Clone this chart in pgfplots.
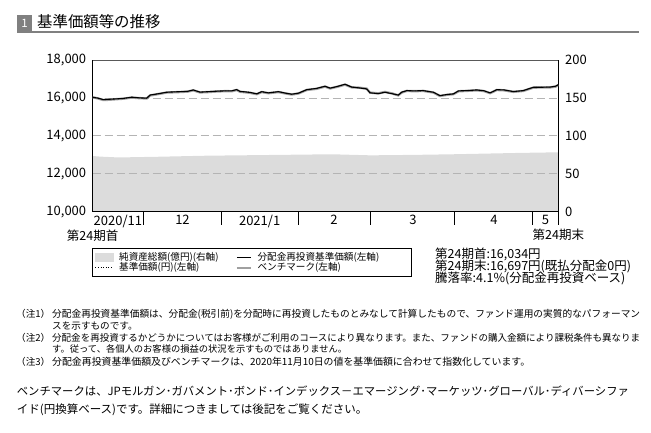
\documentclass[border=0pt]{standalone}
\usepackage{fontspec}
\setmainfont{Noto Sans CJK JP}
\usepackage{pgfplots}
\pgfplotsset{compat=1.18}
\usepackage{pgfplotstable}

\definecolor{areagray}{HTML}{DCDCDC}
\definecolor{bmgray}{HTML}{A0A0A0}
\definecolor{gridgray}{HTML}{B4B4B4}
\definecolor{titlegray}{HTML}{808080}

\newcommand{\fs}[1]{\fontsize{#1}{#1}\selectfont}

% day index from 2020/11/10, value in yen
\pgfplotstableread{
day nav
0 16034
2 15990
4.1 15910
6.5 15930
9.3 15950
12 15975
15.2 16037
18 16005
21.0 15985
22.3 16150
25.5 16220
28.8 16300
32 16320
35.2 16335
37 16350
39.1 16420
41.7 16305
45 16330
48.2 16355
52 16375
54 16370
56.0 16438
57.3 16340
59.2 16320
61.1 16290
63.8 16215
65.7 16330
68.3 16265
72.2 16330
75 16250
77.4 16195
80 16250
83.2 16435
87 16500
90.3 16615
92.3 16515
95 16600
98.1 16720
100.7 16570
103.5 16530
106.5 16475
107.8 16270
111.0 16225
113.6 16300
116.3 16225
118.8 16150
120.1 16300
122.1 16385
125 16370
128.5 16385
132.4 16300
135.0 16120
138 16185
140.2 16210
142.2 16370
146 16390
149.3 16420
152 16380
154.5 16265
157.1 16435
160 16420
163.5 16335
167.4 16385
171.3 16560
175 16565
177.8 16570
180 16620
181 16697
}\navtable

\pgfplotstableread{
day bm
0 16034
2 15975
4.1 15890
6.5 15905
9.3 15935
12 15960
15.2 16020
18 15990
21.0 15970
22.3 16130
25.5 16205
28.8 16285
32 16300
35.2 16320
37 16335
39.1 16400
41.7 16290
45 16310
48.2 16340
52 16360
54 16350
56.0 16420
57.3 16325
59.2 16300
61.1 16270
63.8 16200
65.7 16310
68.3 16250
72.2 16310
75 16235
77.4 16180
80 16235
83.2 16420
87 16480
90.3 16600
92.3 16500
95 16585
98.1 16700
100.7 16560
103.5 16540
106.5 16490
107.8 16280
111.0 16240
113.6 16315
116.3 16240
118.8 16135
120.1 16285
122.1 16370
125 16355
128.5 16370
132.4 16285
135.0 16105
138 16170
140.2 16195
142.2 16350
146 16375
149.3 16400
152 16365
154.5 16250
157.1 16420
160 16400
163.5 16320
167.4 16370
171.3 16545
175 16550
177.8 16555
180 16600
181 16680
}\bmtable

% net assets, 100 million yen
\pgfplotstableread{
day aum
0 73.4
3 72.6
10 71.5
25 72.4
44 73.8
70 74.8
93 75.7
108 74.3
125 74.9
140 75.7
166 77.5
181 78.3
}\aumtable

\begin{document}
\begin{tikzpicture}
\useasboundingbox (0,0) rectangle (651pt,433pt);

% section title
\fill[titlegray] (17pt,402pt) rectangle (32pt,418pt);
\node[white,font=\fs{11.5}] at (24.5pt,410pt) {1};
\node[anchor=base west,font=\fs{15.4},inner sep=0pt] at (37pt,405.5pt) {基準価額等の推移};
\draw[titlegray,line width=1.6pt] (17pt,401pt) -- (639pt,401pt);

% right axis: net assets
\begin{axis}[
  at={(92.7pt,221.3pt)}, anchor=south west,
  scale only axis, width=465.6pt, height=151.7pt,
  xmin=0, xmax=181, ymin=0, ymax=200,
  axis x line=none, axis y line*=right,
  y axis line style={draw=none},
  ytick={0,50,...,200}, major tick length=0pt,
  yticklabel style={font=\fs{13}, xshift=3.3pt},
  /pgf/number format/assume math mode=true,
]
\addplot[fill=areagray, draw=none] table[x=day,y=aum]{\aumtable} \closedcycle;
\end{axis}

% left axis: prices
\begin{axis}[
  at={(92.7pt,221.3pt)}, anchor=south west,
  scale only axis, width=465.6pt, height=151.7pt,
  xmin=0, xmax=181, ymin=10000, ymax=18000,
  scaled y ticks=false,
  axis line style={black, line width=0.8pt},
  ytick={10000,12000,...,18000}, ytick pos=left,
  ymajorgrids,
  major grid style={gridgray, dash pattern=on 8pt off 4pt, line width=0.8pt},
  xtick={9.8,34.9,64.9,93.8,124.5,156,176},
  xticklabels={2020/11,12,2021/1,2,3,4,5},
  xtick pos=bottom,
  major tick length=0pt,
  extra x ticks={19.9,49.9,79.8,108.1,140.8,171.1,181},
  extra x tick labels={},
  extra x tick style={major tick length=13pt, tick align=outside,
    tick style={black, line width=0.8pt}, xmajorgrids=false},
  ticklabel style={font=\fs{13}},
  yticklabel style={xshift=-3pt},
  /pgf/number format/assume math mode=true,
  /pgf/number format/1000 sep={,},
  legend columns=2,
  legend cell align=left,
  legend style={at={(-0.002,-0.239)}, anchor=north west, draw=black,
    line width=0.6pt, inner xsep=3pt, inner ysep=4pt, row sep=0.5pt,
    nodes={inner sep=0.5pt, text height=7.5pt, text depth=1.5pt},
    /tikz/every odd column/.append style={column sep=5pt},
    /tikz/every even column/.append style={column sep=6pt}},
]
\addplot[bmgray, line width=2.4pt, forget plot] table[x=day,y=bm]{\bmtable};
\addplot[black, dotted, line width=0.6pt, forget plot] table[x=day,y=nav]{\navtable};
\addplot[black, line width=1.1pt, forget plot] table[x=day,y=nav]{\navtable};

\addlegendimage{legend image code/.code={\fill[areagray] (0pt,-4pt) rectangle (18pt,4pt);}}
\addlegendentry{\makebox[110pt][l]{\fs{9.6}純資産総額(億円)(右軸)}}
\addlegendimage{legend image code/.code={\draw[black,line width=0.8pt] (0pt,0pt) -- (14pt,0pt);}}
\addlegendentry{\makebox[150pt][l]{\fs{9.6}分配金再投資基準価額(左軸)}}
\addlegendimage{legend image code/.code={\draw[black,dotted,line width=0.6pt] (0pt,0pt) -- (18pt,0pt);}}
\addlegendentry{\makebox[110pt][l]{\fs{9.6}基準価額(円)(左軸)}}
\addlegendimage{legend image code/.code={\draw[bmgray,line width=2.4pt] (0pt,0pt) -- (14pt,0pt);}}
\addlegendentry{\makebox[150pt][l]{\fs{9.6}ベンチマーク(左軸)}}
\end{axis}
\draw[gray!70!black, line width=0.8pt] (92.7pt,373pt) -- (558.3pt,373pt);

% period labels
\node[anchor=base west,font=\fs{12.5},inner sep=0pt] at (66.7pt,192.5pt) {第24期首};
\node[anchor=base east,font=\fs{12.5},inner sep=0pt] at (584.3pt,193pt) {第24期末};

% summary
\node[anchor=base west,font=\fs{12.5},inner sep=0pt] at (435pt,174pt) {第24期首:16,034円};
\node[anchor=base west,font=\fs{12.5},inner sep=0pt] at (435pt,162.3pt) {第24期末:16,697円(既払分配金0円)};
\node[anchor=base west,font=\fs{12.5},inner sep=0pt] at (435pt,150.7pt) {騰落率:4.1\%(分配金再投資ベース)};

% notes
\begin{scope}[every node/.style={anchor=base west,font=\fs{9.6},inner sep=0pt}]
\node at (16pt,115.7pt) {（注1）};
\node at (52pt,115.7pt) {\resizebox{588pt}{!}{分配金再投資基準価額は、分配金(税引前)を分配時に再投資したものとみなして計算したもので、ファンド運用の実質的なパフォーマン}};
\node at (52pt,103.5pt) {スを示すものです。};
\node at (16pt,91.5pt) {（注2）};
\node at (52pt,91.5pt) {\resizebox{588pt}{!}{分配金を再投資するかどうかについてはお客様がご利用のコースにより異なります。また、ファンドの購入金額により課税条件も異なりま}};
\node at (52pt,80.5pt) {\resizebox{295pt}{!}{す。従って、各個人のお客様の損益の状況を示すものではありません。}};
\node at (16pt,67.8pt) {（注3）};
\node at (52pt,67.8pt) {\resizebox{478pt}{!}{分配金再投資基準価額及びベンチマークは、2020年11月10日の値を基準価額に合わせて指数化しています。}};
\end{scope}

% benchmark description
\begin{scope}[every node/.style={anchor=base west,font=\fs{11.5},inner sep=0pt}]
\node at (16.7pt,37.3pt) {\resizebox{612pt}{!}{ベンチマークは、JPモルガン･ガバメント･ボンド･インデックス－エマージング･マーケッツ･グローバル･ディバーシファ}};
\node at (16.7pt,19.4pt) {イド(円換算ベース)です。詳細につきましては後記をご覧ください。};
\end{scope}
\end{tikzpicture}
\end{document}
